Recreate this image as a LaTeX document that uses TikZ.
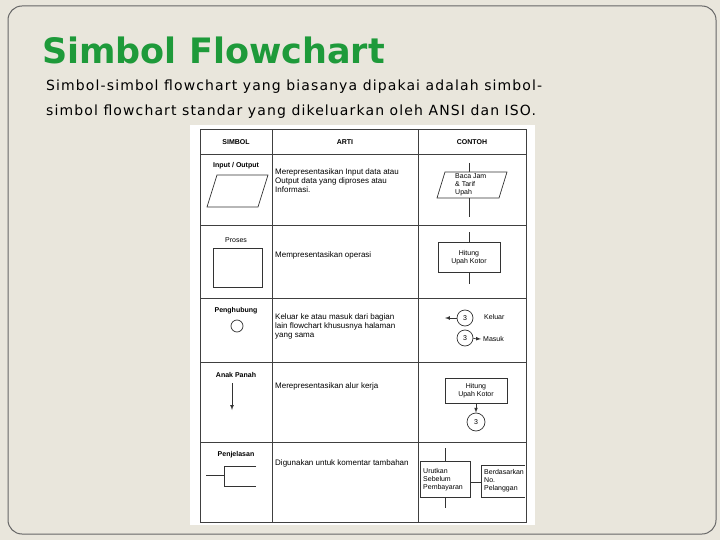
\documentclass[tikz,border=0pt]{standalone}
\usepackage{fontspec}
\setmainfont{DejaVu Sans}
\newfontfamily\tf{Liberation Sans}
\newfontfamily\bodyf[LetterSpace=8]{DejaVu Sans}
\definecolor{slidebg}{HTML}{E9E6DC}
\definecolor{titlegreen}{HTML}{1E9A3A}
\begin{document}
\begin{tikzpicture}[x=1pt,y=-1pt,
  tl/.style={font=\tf\fontsize{7}{8}\selectfont,inner sep=0pt},
  ta/.style={font=\tf\fontsize{8}{9}\selectfont,inner sep=0pt},
  tlb/.style={font=\tf\bfseries\fontsize{7}{8}\selectfont,inner sep=0pt},
  grid/.style={line width=1pt,draw=black!75},
  sym/.style={draw=black!80,line width=0.7pt},
  arr/.style={draw=black!80,line width=0.7pt,-latex}]
\useasboundingbox (0,0) rectangle (720,540);
\fill[slidebg] (0,0) rectangle (720,540);
\draw[black!60,line width=1pt,rounded corners=14pt] (8,6) rectangle (716,534);
\node[anchor=west,text=titlegreen,font=\bfseries\fontsize{35}{38}\selectfont,inner sep=0pt] (title) at (42,50) {Simbol Flowchart};
\node[anchor=west,font=\bodyf\fontsize{14}{15}\selectfont,inner sep=0pt] (l1) at (46,87) {Simbol-simbol flowchart yang biasanya dipakai adalah simbol-};
\node[anchor=west,font=\bodyf\fontsize{14}{15}\selectfont,inner sep=0pt] (l2) at (46,112) {simbol flowchart standar yang dikeluarkan oleh ANSI dan ISO.};
% table
\fill[white] (190,125) rectangle (535,525);
\draw[grid] (200,130) rectangle (526,522);
\foreach \x in {272,418} \draw[grid] (\x,130) -- (\x,522);
\foreach \y in {155,226,298,362,442} \draw[grid] (200,\y) -- (526,\y);
\node[tlb] (h1) at (236,142) {SIMBOL};
\node[tlb] (h2) at (345,142) {ARTI};
\node[tlb] (h3) at (472,142) {CONTOH};
% row 1
\node[tlb] (r1) at (236,166) {Input / Output};
\draw[sym] (217,175) -- (268,175) -- (258,207) -- (207,207) -- cycle;
\node[ta,anchor=north west,align=left] (a1) at (275,169) {Merepresentasikan Input data atau\\Output data yang diproses atau\\Informasi.};
\draw[sym] (469,163) -- (469,217);
\draw[sym,fill=white] (445,172) -- (507,172) -- (499,198) -- (437,198) -- cycle;
\node[tl,anchor=west,align=left] (c1) at (455,185) {Baca Jam\\\& Tarif\\Upah};
% row 2
\node[tl] (r2) at (236,240) {Proses};
\draw[sym] (213,248) rectangle (262,287);
\node[ta,anchor=west] (a2) at (275,255) {Mempresentasikan operasi};
\draw[sym] (469,232) -- (469,284);
\draw[sym,fill=white] (438,242) rectangle (500,272);
\node[tl,align=center] (c2) at (469,258) {Hitung\\Upah Kotor};
% row 3
\node[tlb] (r3) at (236,311) {Penghubung};
\draw[sym] (237,326) circle (6);
\node[ta,anchor=north west,align=left] (a3) at (275,314) {Keluar ke atau masuk dari bagian\\lain flowchart khususnya halaman\\yang sama};
\node[sym,circle,minimum size=16pt,tl] (k) at (465,318) {3};
\coordinate (kin) at (445,318);
\draw[arr] (k) -- (kin);
\node[tl,anchor=west] (kt) at (484,317) {Keluar};
\node[sym,circle,minimum size=16pt,tl] (m) at (465,338) {3};
\coordinate (mout) at (481,339);
\draw[arr] (m) -- (mout);
\node[tl,anchor=west] (mt) at (483,339) {Masuk};
% row 4
\node[tlb] (r4) at (236,375) {Anak Panah};
\coordinate (p1) at (232,383); \coordinate (p2) at (232,410);
\draw[arr] (p1) -- (p2);
\node[ta,anchor=west] (a4) at (275,386) {Merepresentasikan alur kerja};
\node[sym,minimum width=62pt,minimum height=25pt,tl,align=center] (hb) at (476,391) {Hitung\\Upah Kotor};
\node[sym,circle,minimum size=18pt,tl] (c3) at (476,422) {3};
\draw[arr] (hb.south) -- (c3.north);
% row 5
\node[tlb] (r5) at (236,455) {Penjelasan};
\draw[sym] (206,475) -- (224,475);
\draw[sym] (256,466) -- (224,466) -- (224,486) -- (256,486);
\node[ta,anchor=west] (a5) at (275,463) {Digunakan untuk komentar tambahan};
\draw[sym] (445,448) -- (445,508);
\node[sym,fill=white,minimum width=50pt,minimum height=36pt] (ub) at (445,479) {};
\node[tl,anchor=west,align=left] (ut) at (423,480) {Urutkan\\Sebelum\\Pembayaran};
\draw[sym] (470,482) -- (481,482);
\draw[sym] (525,465) -- (481,465) -- (481,497) -- (525,497);
\node[tl,anchor=west,align=left] (bt) at (484,481) {Berdasarkan\\ No.\\ Pelanggan};
\end{tikzpicture}
\end{document}
